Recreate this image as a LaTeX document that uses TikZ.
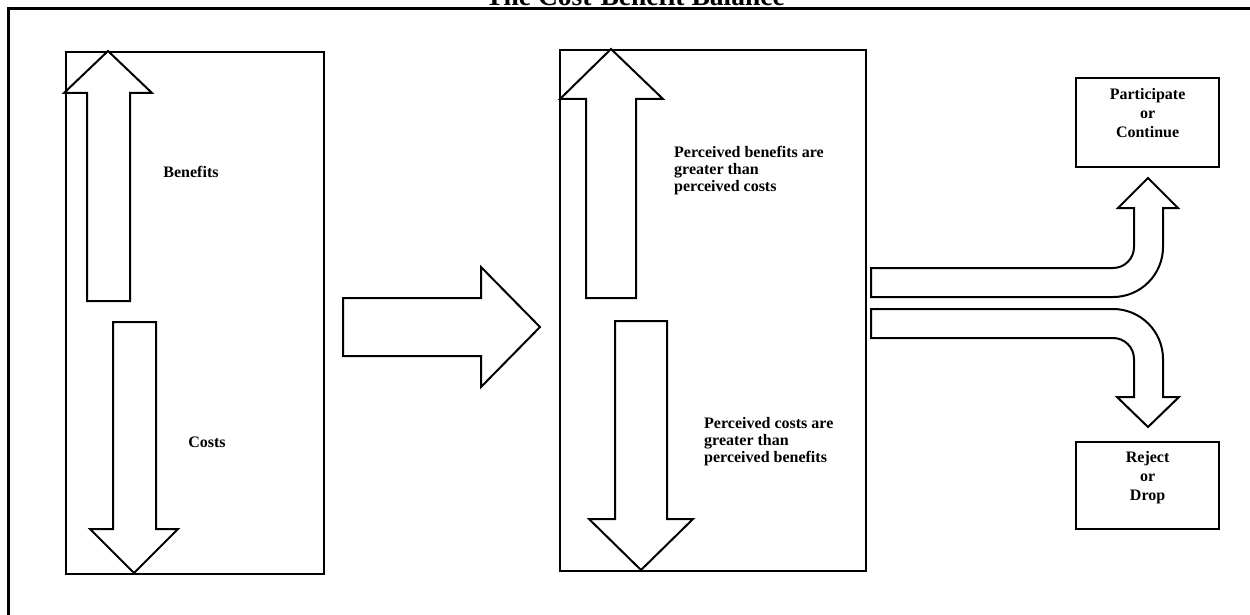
\documentclass[tikz,border=0pt]{standalone}
\usepackage{fontspec}
\setmainfont{Liberation Serif}
\begin{document}
\begin{tikzpicture}[x=1pt,y=-1pt,
  box/.style={draw,line width=2.2pt,inner sep=0pt},
  barrow/.style={draw,line width=2pt,fill=white,line join=miter},
  lbl/.style={font=\fontsize{16}{17}\selectfont\bfseries,inner sep=0pt,align=left},
  clbl/.style={font=\fontsize{16}{19}\selectfont\bfseries,inner sep=0pt,align=center}]
\useasboundingbox (0,0) rectangle (1250,615);
% frame
\draw[line width=3pt] (8,616) -- (8,8.5) -- (1251,8.5);
\node[anchor=base,font=\fontsize{27.5}{28}\selectfont\bfseries,inner sep=0pt] (title) at (635,6) {The Cost-Benefit Balance};
% left box
\node[box,minimum width=258pt,minimum height=522pt,anchor=north west] (lbox) at (65,51) {};
\draw[barrow] (108,51) -- (152,93) -- (130,93) -- (130,301) -- (87,301) -- (87,93) -- (64,93) -- cycle;
\draw[barrow] (134,573) -- (178,529) -- (156,529) -- (156,322) -- (113,322) -- (113,529) -- (90,529) -- cycle;
\node[lbl,anchor=base] (benefits) at (191,177) {Benefits};
\node[lbl,anchor=base] (costs) at (207,447) {Costs};
% middle arrow
\draw[barrow] (540,327) -- (481,387) -- (481,356) -- (343,356) -- (343,298) -- (481,298) -- (481,267) -- cycle;
% second box
\node[box,minimum width=306pt,minimum height=521pt,anchor=north west] (mbox) at (559,49) {};
\draw[barrow] (611,49) -- (663,99) -- (636,99) -- (636,298) -- (586,298) -- (586,99) -- (560,99) -- cycle;
\draw[barrow] (641,570) -- (693,519) -- (667,519) -- (667,321) -- (615,321) -- (615,519) -- (589,519) -- cycle;
\node[lbl,anchor=north west] (pb) at (674,146) {Perceived benefits are\\greater than\\perceived costs};
\node[lbl,anchor=north west] (pc) at (704,417) {Perceived costs are\\greater than\\perceived benefits};
% outcome boxes
\node[box,minimum width=143pt,minimum height=89pt,anchor=north west] (part) at (1075,77) {};
\node[clbl,anchor=north] (partt) at (part.north |- 0,88) {Participate\\or\\Continue};
\node[box,minimum width=143pt,minimum height=87pt,anchor=north west] (rej) at (1075,441) {};
\node[clbl,anchor=north] (rejt) at (rej.north |- 0,451) {Reject\\or\\Drop};
% curved arrows
\draw[barrow] (871,268) -- (1113,268) .. controls (1124.6,268) and (1134,258.6) .. (1134,247) -- (1134,208) -- (1118,208) -- (1148,178) -- (1178,208) -- (1163,208) -- (1163,247) .. controls (1163,274.6) and (1140.6,297) .. (1113,297) -- (871,297) -- cycle;
\draw[barrow] (871,338) -- (1113,338) .. controls (1124.6,338) and (1134,347.4) .. (1134,359) -- (1134,397) -- (1117,397) -- (1148,427) -- (1179,397) -- (1163,397) -- (1163,359) .. controls (1163,331.4) and (1140.6,309) .. (1113,309) -- (871,309) -- cycle;
\end{tikzpicture}
\end{document}
